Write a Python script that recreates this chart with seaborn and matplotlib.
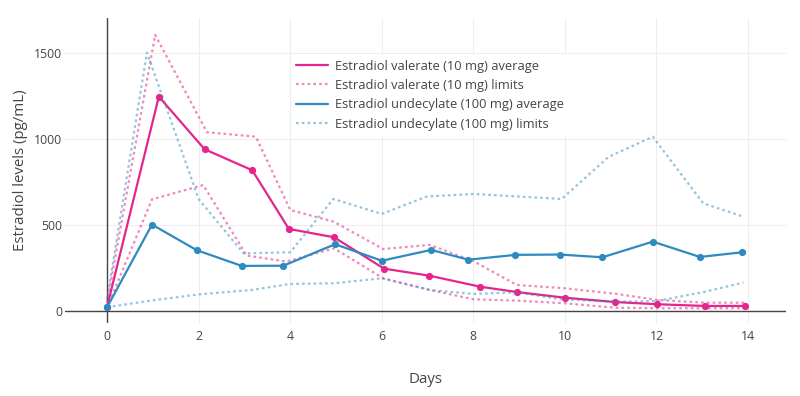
import matplotlib
matplotlib.use("Agg")
import matplotlib.pyplot as plt
from matplotlib.lines import Line2D
import seaborn as sns

# Estradiol valerate (10 mg)
ev_avg_days = [0, 1.13, 2.13, 3.17, 3.97, 4.96, 6.05, 7.04, 8.15, 8.95, 10.0, 11.09, 12.02, 13.07, 13.93]
ev_avg = [25, 1246, 940, 818, 477, 428, 246, 205, 141, 110, 77, 52, 39, 29, 29]
ev_upper_days = [0, 1.05, 2.18, 3.25, 4.0, 4.95, 6.03, 7.05, 8.0, 8.95, 9.99, 11.1, 12.02, 13.07, 13.93]
ev_upper = [50, 1605, 1039, 1013, 587, 519, 360, 384, 290, 151, 132, 100, 64, 48, 48]
ev_lower_days = [0, 0.98, 2.1, 3.05, 3.92, 4.96, 6.03, 7.05, 8.0, 8.95, 9.98, 11.09, 12.02, 13.07, 13.93]
ev_lower = [20, 649, 732, 322, 287, 364, 190, 122, 68, 60, 45, 19, 16, 16, 16]

# Estradiol undecylate (100 mg)
eu_avg_days = [0, 0.98, 1.96, 2.94, 3.85, 4.98, 6.0, 7.08, 7.89, 8.92, 9.89, 10.82, 11.92, 12.95, 13.87]
eu_avg = [22, 502, 353, 262, 263, 388, 292, 355, 298, 326, 328, 312, 403, 314, 341]
eu_upper_days = [0, 0.87, 2.0, 2.98, 4.0, 4.94, 6.0, 6.98, 8.0, 9.0, 9.93, 10.95, 11.92, 13.02, 13.85]
eu_upper = [70, 1502, 650, 335, 341, 651, 564, 665, 680, 665, 651, 895, 1013, 626, 552]
eu_lower_days = [0, 1.0, 2.03, 3.16, 4.0, 4.96, 6.0, 7.05, 8.0, 8.95, 9.93, 11.09, 12.02, 13.07, 13.9]
eu_lower = [22, 62, 97, 122, 157, 161, 190, 122, 99, 108, 68, 54, 58, 112, 165]

x_ticks = [0, 2, 4, 6, 8, 10, 12, 14]
y_ticks = [0, 500, 1000, 1500]

legend_labels = [
    "Estradiol valerate (10 mg) average",
    "Estradiol valerate (10 mg) limits",
    "Estradiol undecylate (100 mg) average",
    "Estradiol undecylate (100 mg) limits",
]

pink = "#e5258c"
blue = "#2e8bc0"
dot = (0, (1.2, 1.4))

sns.set_theme(style="white")
plt.rcParams["font.family"] = ["Open Sans", "DejaVu Sans"]

fig = plt.figure(figsize=(8, 3.96), dpi=100)
ax = fig.add_axes([65 / 800, 1 - 323 / 396, 721 / 800, 305 / 396])

# plotly-like grid and zero lines
for t in x_ticks:
    ax.axvline(t, color="#eeeeee", lw=0.8, zorder=0)
for t in y_ticks:
    ax.axhline(t, color="#eeeeee", lw=0.8, zorder=0)
ax.axvline(0, color="#444444", lw=1.0, zorder=1)
ax.axhline(0, color="#444444", lw=1.0, zorder=1)

# limits (dotted)
for d, v, c, a, z in [(ev_upper_days, ev_upper, pink, 0.55, 3),
                      (ev_lower_days, ev_lower, pink, 0.55, 3),
                      (eu_upper_days, eu_upper, blue, 0.5, 5),
                      (eu_lower_days, eu_lower, blue, 0.5, 5)]:
    sns.lineplot(x=d, y=v, ax=ax, color=c, alpha=a, lw=1.6, linestyle=dot,
                 sort=False, estimator=None, legend=False, zorder=z)

# averages
sns.lineplot(x=ev_avg_days, y=ev_avg, ax=ax, color=pink, lw=1.6, marker="o",
             markersize=5.2, markeredgewidth=0, sort=False, estimator=None,
             legend=False, zorder=4)
sns.lineplot(x=eu_avg_days, y=eu_avg, ax=ax, color=blue, lw=1.6, marker="o",
             markersize=5.2, markeredgewidth=0, sort=False, estimator=None,
             legend=False, zorder=6)

ax.set_xlim(-0.92, 14.83)
ax.set_ylim(-70, 1703)
ax.set_xticks(x_ticks)
ax.set_yticks(y_ticks)
ax.tick_params(axis="both", length=0, labelsize=8.8, labelcolor="#444444")
ax.tick_params(axis="x", pad=5)
ax.tick_params(axis="y", pad=2)
for s in ax.spines.values():
    s.set_visible(False)

ax.set_xlabel("Days", fontsize=10.8, color="#444444")
ax.set_ylabel("Estradiol levels (pg/mL)", fontsize=10.8, color="#444444")
ax.xaxis.set_label_coords(0.5, -0.16)
ax.yaxis.set_label_coords(-0.052, 0.5)

handles = [
    Line2D([], [], color=pink, lw=1.6),
    Line2D([], [], color=pink, alpha=0.55, lw=1.6, linestyle=dot),
    Line2D([], [], color=blue, lw=1.6),
    Line2D([], [], color=blue, alpha=0.5, lw=1.6, linestyle=dot),
]
leg = ax.legend(handles, legend_labels, loc="upper left",
                bbox_to_anchor=(0.304, 0.902), fontsize=9.3,
                frameon=True, facecolor="white", edgecolor="none", framealpha=1,
                handlelength=2.5, handletextpad=0.55, labelspacing=0.5,
                borderpad=0.4, fancybox=False)
for t in leg.get_texts():
    t.set_color("#444444")
leg.set_zorder(10)

fig.savefig("out.png", dpi=100)
